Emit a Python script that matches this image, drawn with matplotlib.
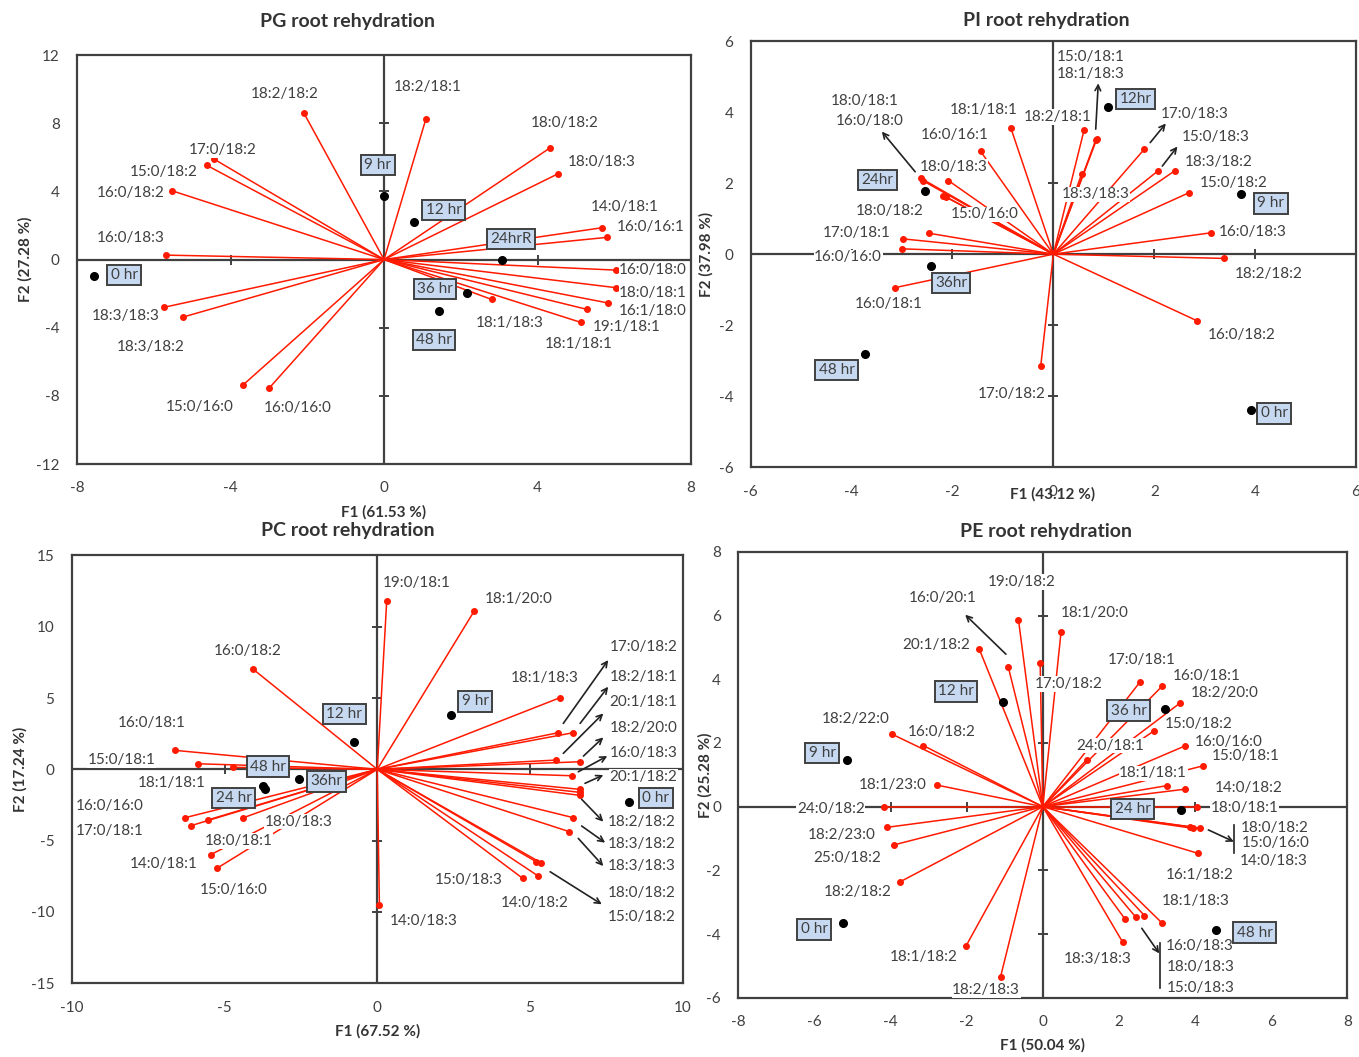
import matplotlib
matplotlib.use("Agg")
import matplotlib.pyplot as plt

plt.rcParams['font.family'] = ['Lato', 'DejaVu Sans']
plt.rcParams['axes.unicode_minus'] = False

RED = '#ff1a00'
TXT = '#404040'
AXC = '#404040'
BOXFILL = '#c6d9f1'

# ---------------- PG root rehydration ----------------
pg_lipids = ['18:2/18:2', '17:0/18:2', '15:0/18:2', '16:0/18:2', '16:0/18:3', '18:3/18:3',
             '18:3/18:2', '15:0/16:0', '16:0/16:0', '18:2/18:1', '18:0/18:2', '18:0/18:3',
             '14:0/18:1', '16:0/16:1', '16:0/18:0', '18:0/18:1', '16:1/18:0', '19:1/18:1',
             '18:1/18:1', '18:1/18:3']
pg_f1 = [-2.09, -4.42, -4.62, -5.53, -5.69, -5.73, -5.23, -3.67, -3.0, 1.09, 4.33, 4.54,
         5.69, 5.8, 6.04, 6.04, 5.84, 5.28, 5.13, 2.8]
pg_f2 = [8.6, 5.88, 5.53, 4.04, 0.26, -2.8, -3.37, -7.35, -7.56, 8.25, 6.56, 5.04,
         1.87, 1.3, -0.62, -1.65, -2.55, -2.92, -3.69, -2.34]
pg_times = ['0 hr', '9 hr', '12 hr', '24hrR', '36 hr', '48 hr']
pg_obs_f1 = [-7.57, 0.0, 0.77, 3.07, 2.15, 1.44]
pg_obs_f2 = [-0.97, 3.73, 2.22, -0.03, -1.98, -3.0]

# ---------------- PI root rehydration ----------------
pi_lipids = ['18:1/18:1', '16:0/16:1', '18:0/18:3', '18:0/18:1', '16:0/18:0', '18:0/18:2',
             '15:0/16:0', '17:0/18:1', '', '16:0/16:0', '16:0/18:1', '17:0/18:2',
             '18:2/18:1', '15:0/18:1', '18:1/18:3', '18:3/18:3', '17:0/18:3', '15:0/18:3',
             '18:3/18:2', '15:0/18:2', '16:0/18:3', '18:2/18:2', '16:0/18:2']
pi_f1 = [-0.84, -1.44, -2.08, -2.63, -2.59, -2.18, -2.12, -2.98, -2.47, -3.01, -3.13, -0.25,
         0.61, 0.84, 0.86, 0.56, 1.8, 2.08, 2.41, 2.69, 3.12, 3.38, 2.84]
pi_f2 = [3.54, 2.89, 2.07, 2.14, 2.07, 1.65, 1.6, 0.43, 0.59, 0.15, -0.94, -3.14,
         3.5, 3.21, 3.24, 2.26, 2.95, 2.35, 2.35, 1.73, 0.6, -0.12, -1.87]
pi_times = ['0 hr', '9 hr', '12hr', '24hr', '36hr', '48 hr']
pi_obs_f1 = [3.91, 3.72, 1.08, -2.55, -2.43, -3.74]
pi_obs_f2 = [-4.39, 1.69, 4.13, 1.79, -0.33, -2.8]

# ---------------- PC root rehydration ----------------
pc_lipids = ['16:0/18:2', '16:0/18:1', '15:0/18:1', '18:1/18:1', '16:0/16:0', '17:0/18:1',
             '18:0/18:1', '18:0/18:3', '14:0/18:1', '15:0/16:0', '14:0/18:3', '19:0/18:1',
             '18:1/20:0', '18:1/18:3', '17:0/18:2', '18:2/18:1', '20:1/18:1', '18:2/20:0',
             '16:0/18:3', '20:1/18:2', '18:2/18:2', '', '18:3/18:2', '18:3/18:3',
             '18:0/18:2', '15:0/18:2', '15:0/18:3', '14:0/18:2']
pc_f1 = [-4.08, -6.62, -5.86, -4.71, -6.29, -6.1, -5.55, -4.38, -5.45, -5.25, 0.07, 0.31,
         3.18, 5.98, 5.93, 6.42, 5.85, 6.62, 6.37, 6.62, 6.62, 6.62, 6.42, 6.29,
         5.2, 5.36, 4.76, 5.27]
pc_f2 = [7.05, 1.33, 0.39, 0.14, -3.39, -3.95, -3.55, -3.39, -5.98, -6.94, -9.51, 11.82,
         11.12, 5.02, 2.57, 2.57, 0.65, 0.53, -0.45, -1.4, -1.61, -1.82, -3.39, -4.37,
         -6.47, -6.55, -7.64, -7.48]
pc_times = ['0 hr', '9 hr', '12 hr', '24 hr', '36hr', '48 hr']
pc_obs_f1 = [8.25, 2.41, -0.76, -3.68, -2.55, -3.75]
pc_obs_f2 = [-2.31, 3.8, 1.91, -1.35, -0.7, -1.15]

# ---------------- PE root rehydration ----------------
pe_lipids = ['19:0/18:2', '16:0/20:1', '20:1/18:2', '17:0/18:2', '18:2/22:0', '16:0/18:2',
             '18:1/23:0', '24:0/18:2', '18:2/23:0', '25:0/18:2', '18:2/18:2', '18:1/18:2',
             '18:2/18:3', '18:1/20:0', '17:0/18:1', '16:0/18:1', '18:2/20:0', '15:0/18:2',
             '16:0/16:0', '15:0/18:1', '24:0/18:1', '18:1/18:1', '14:0/18:2', '18:0/18:1',
             '18:0/18:2', '15:0/16:0', '14:0/18:3', '16:1/18:2', '18:1/18:3', '16:0/18:3',
             '18:0/18:3', '15:0/18:3', '18:3/18:3']
pe_f1 = [-0.64, -0.91, -1.67, -0.07, -3.95, -3.14, -2.79, -4.17, -4.1, -3.91, -3.75, -2.02,
         -1.11, 0.48, 2.55, 3.14, 3.6, 2.92, 3.74, 4.2, 1.15, 3.26, 3.74, 4.04,
         3.87, 3.95, 4.13, 4.09, 3.12, 2.16, 2.45, 2.67, 2.1]
pe_f2 = [5.87, 4.4, 4.95, 4.5, 2.27, 1.92, 0.68, 0.0, -0.65, -1.2, -2.36, -4.38,
         -5.34, 5.5, 3.91, 3.79, 3.25, 2.38, 1.91, 1.28, 1.47, 0.66, 0.55, 0.0,
         -0.63, -0.68, -0.68, -1.47, -3.64, -3.53, -3.48, -3.42, -4.26]
pe_times = ['0 hr', '9 hr', '12 hr', '24 hr', '36 hr', '48 hr']
pe_obs_f1 = [-5.24, -5.14, -1.05, 3.63, 3.21, 4.55]
pe_obs_f2 = [-3.64, 1.47, 3.3, -0.1, 3.07, -3.87]

# ---------------- layout: label placements (data coords) ----------------
pg_lab_x = [-2.6, -4.2, -5.75, -6.61, -6.61, -6.74, -6.08, -4.81, -2.26, 1.15, 4.71, 5.67,
            6.28, 6.95, 7.01, 7.01, 7.01, 6.32, 5.06, 3.28]
pg_lab_y = [9.7, 6.41, 5.13, 3.88, 1.24, -3.32, -5.12, -8.64, -8.73, 10.14, 7.99, 5.7,
            3.1, 1.92, -0.62, -1.98, -3.0, -3.98, -4.98, -3.74]
pg_box_x = [-6.77, -0.16, 1.55, 3.31, 1.33, 1.3]
pg_box_y = [-0.91, 5.55, 2.9, 1.2, -1.73, -4.72]

pi_lab_x = [-1.39, -1.96, -1.98, -3.74, -3.65, -3.24, -1.36, -3.9, 0, -4.07, -3.27, -0.83,
            0.09, 0.74, 0.74, 0.84, 2.81, 3.22, 3.28, 3.57, 3.96, 4.26, 3.73]
pi_lab_y = [4.06, 3.35, 2.46, 4.32, 3.76, 1.22, 1.12, 0.59, 0, -0.09, -1.4, -3.93,
            3.86, 5.54, 5.06, 1.69, 3.95, 3.29, 2.59, 2.0, 0.63, -0.57, -2.27]
pi_box_x = [4.38, 4.31, 1.63, -3.49, -2.03, -4.3]
pi_box_y = [-4.48, 1.43, 4.37, 2.09, -0.81, -3.26]
pi_arrows = [((-2.74, 2.32), (-3.4, 3.45)), ((0.84, 3.52), (0.89, 4.81)),
             ((1.92, 3.14), (2.23, 3.68)), ((2.16, 2.48), (2.46, 3.03))]

pc_lab_x = [-4.24, -7.38, -8.36, -6.73, -8.75, -8.77, -4.55, -2.58, -6.98, -4.71, 1.53, 1.29,
            4.64, 5.49, 8.71, 8.71, 8.71, 8.71, 8.71, 8.71, 8.66, 0, 8.66, 8.66,
            8.66, 8.66, 3.01, 5.17]
pc_lab_y = [8.31, 3.27, 0.65, -0.94, -2.57, -4.3, -5.02, -3.67, -6.64, -8.46, -10.61, 13.03,
            11.93, 6.38, 8.55, 6.49, 4.74, 2.87, 1.12, -0.52, -3.67, 0, -5.26, -6.76,
            -8.65, -10.33, -7.76, -9.35]
pc_box_x = [9.12, 3.2, -1.08, -4.7, -1.65, -3.58]
pc_box_y = [-2.01, 4.77, 3.88, -2.01, -0.84, 0.18]
pc_arrows = [((6.09, 3.22), (7.56, 7.66)), ((6.64, 3.22), (7.56, 5.79)),
             ((6.09, 1.12), (7.4, 3.92)), ((6.75, 0.93), (7.4, 2.24)),
             ((6.58, -0.17), (7.53, 0.93)), ((6.8, -0.98), (7.4, -0.4)),
             ((6.69, -2.1), (7.4, -3.67)), ((6.69, -3.97), (7.46, -5.14)),
             ((6.58, -4.84), (7.4, -6.78)), ((5.66, -7.18), (7.35, -9.46))]

pe_lab_x = [-0.55, -2.64, -2.81, 0.67, -4.91, -2.66, -3.95, -5.57, -5.28, -5.14, -4.86, -3.12,
            -1.49, 1.37, 2.6, 4.31, 4.77, 4.09, 4.89, 5.34, 1.77, 2.9, 5.4, 5.31,
            6.1, 6.13, 6.06, 4.11, 4.02, 4.13, 4.15, 4.15, 1.43]
pe_lab_y = [7.06, 6.55, 5.08, 3.85, 2.76, 2.34, 0.68, -0.08, -0.89, -1.62, -2.67, -4.73,
            -5.76, 6.08, 4.61, 4.11, 3.56, 2.6, 2.04, 1.59, 1.91, 1.05, 0.58, -0.05,
            -0.66, -1.15, -1.7, -2.15, -2.95, -4.38, -5.03, -5.71, -4.78]
pe_box_x = [-6.01, -5.8, -2.28, 2.36, 2.25, 5.56]
pe_box_y = [-3.85, 1.69, 3.62, -0.07, 3.01, -3.96]
pe_arrows = [((-0.97, 4.79), (-2.04, 6.03)), ((4.35, -0.73), (5.02, -1.1)),
             ((2.6, -3.82), (3.06, -4.61))]
pe_brackets = [(5.02, -0.58, -1.46), (3.08, -4.29, -5.71)]


def draw_panel(ax, lipids, f1, f2, lab_x, lab_y, times, obs_f1, obs_f2, box_x, box_y,
               xlim, ylim, xticks, yticks, title, title_pos, xlabel, xlab_pos, ylabel, ylab_pos,
               arrows=(), brackets=()):
    ax.set_xlim(*xlim)
    ax.set_ylim(*ylim)
    ax.set_xticks(xticks)
    ax.set_yticks(yticks)
    ax.tick_params(length=0, pad=12.5, labelsize=11, labelcolor=TXT)
    for s in ax.spines.values():
        s.set_color(AXC)
        s.set_linewidth(1.6)

    # zero axes with cross ticks
    ax.axhline(0, color=AXC, lw=1.6, zorder=1)
    ax.axvline(0, color=AXC, lw=1.6, zorder=1)
    ax.plot(xticks, [0] * len(xticks), ls='none', marker='|', ms=7, mew=1.4, color=AXC,
            zorder=1, clip_on=False)
    ax.plot([0] * len(yticks), yticks, ls='none', marker='_', ms=7, mew=1.4, color=AXC,
            zorder=1, clip_on=False)

    # loading vectors
    for x, y in zip(f1, f2):
        ax.plot([0, x], [0, y], color=RED, lw=1.1, zorder=2)
    ax.plot(f1, f2, ls='none', marker='o', ms=4, color=RED, zorder=2)

    for name, lx, ly in zip(lipids, lab_x, lab_y):
        if not name:
            continue
        ax.text(lx, ly, name, ha='center', va='center', fontsize=11, color=TXT, zorder=3,
                bbox=dict(fc='white', ec='none', pad=0.4))

    for (x0, y0), (x1, y1) in arrows:
        ax.annotate('', xy=(x1, y1), xytext=(x0, y0), zorder=4,
                    arrowprops=dict(arrowstyle='->', color='#222222', lw=1.2,
                                    shrinkA=0, shrinkB=0, mutation_scale=10))
    for bx, y0, y1 in brackets:
        ax.plot([bx, bx], [y0, y1], color='#222222', lw=1.2, zorder=4)

    # observations
    ax.plot(obs_f1, obs_f2, ls='none', marker='o', ms=5.5, color='black', zorder=4)
    for t, bx, by in zip(times, box_x, box_y):
        ax.text(bx, by, t, ha='center', va='center', fontsize=11, color=TXT, zorder=5,
                bbox=dict(boxstyle='square,pad=0.22', fc=BOXFILL, ec=AXC, lw=1.4))

    ax.text(title_pos[0], title_pos[1], title, transform=ax.transAxes, ha='center',
            va='center', fontsize=14, fontweight='bold', color='#333333')
    ax.set_xlabel(xlabel, fontsize=11, fontweight='bold', color='#333333')
    ax.xaxis.set_label_coords(*xlab_pos)
    ax.set_ylabel(ylabel, fontsize=11, fontweight='bold', color='#333333')
    ax.yaxis.set_label_coords(*ylab_pos)


fig = plt.figure(figsize=(13.59, 10.57), dpi=100)

ax_pg = fig.add_axes([0.0567, 0.5610, 0.4518, 0.3869])
draw_panel(ax_pg, pg_lipids, pg_f1, pg_f2, pg_lab_x, pg_lab_y, pg_times, pg_obs_f1, pg_obs_f2,
           pg_box_x, pg_box_y, (-8, 8), (-12, 12), [-8, -4, 0, 4, 8],
           [-12, -8, -4, 0, 4, 8, 12], 'PG root rehydration', (0.441, 1.083),
           'F1 (61.53 %)', (0.5, -0.1), 'F2 (27.28 %)', (-0.073, 0.5))

ax_pi = fig.add_axes([0.5524, 0.5579, 0.4454, 0.4033])
draw_panel(ax_pi, pi_lipids, pi_f1, pi_f2, pi_lab_x, pi_lab_y, pi_times, pi_obs_f1, pi_obs_f2,
           pi_box_x, pi_box_y, (-6, 6), (-6, 6), [-6, -4, -2, 0, 2, 4, 6],
           [-6, -4, -2, 0, 2, 4, 6], 'PI root rehydration', (0.488, 1.047),
           'F1 (43.12 %)', (0.4994, -0.047), 'F2 (37.98 %)', (-0.061, 0.5),
           arrows=pi_arrows)

ax_pc = fig.add_axes([0.0528, 0.0697, 0.4496, 0.4049])
draw_panel(ax_pc, pc_lipids, pc_f1, pc_f2, pc_lab_x, pc_lab_y, pc_times, pc_obs_f1, pc_obs_f2,
           pc_box_x, pc_box_y, (-10, 10), (-15, 15), [-10, -5, 0, 5, 10],
           [-15, -10, -5, 0, 5, 10, 15], 'PC root rehydration', (0.452, 1.057),
           'F1 (67.52 %)', (0.5, -0.095), 'F2 (17.24 %)', (-0.073, 0.5),
           arrows=pc_arrows)

ax_pe = fig.add_axes([0.5433, 0.0561, 0.4481, 0.4217])
draw_panel(ax_pe, pe_lipids, pe_f1, pe_f2, pe_lab_x, pe_lab_y, pe_times, pe_obs_f1, pe_obs_f2,
           pe_box_x, pe_box_y, (-8, 8), (-6, 8), [-8, -6, -4, -2, 0, 2, 4, 6, 8],
           [-6, -4, -2, 0, 2, 4, 6, 8], 'PE root rehydration', (0.505, 1.047),
           'F1 (50.04 %)', (0.5, -0.091), 'F2 (25.28 %)', (-0.042, 0.5),
           arrows=pe_arrows, brackets=pe_brackets)

fig.savefig('out.png', dpi=100, facecolor='white')
